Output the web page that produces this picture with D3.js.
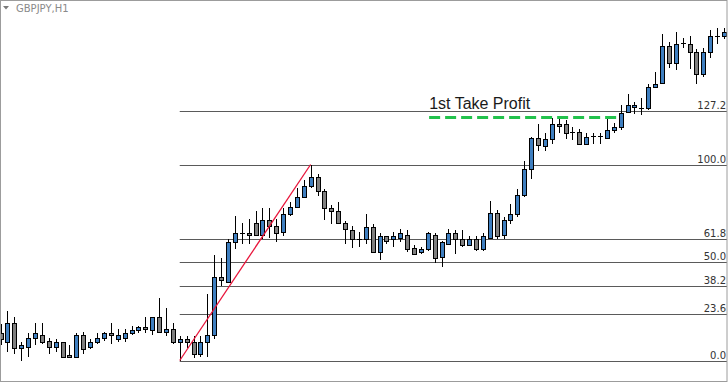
<!DOCTYPE html>
<html lang="en">
<head>
  <meta charset="UTF-8">
  <title>GBPJPY H1 - Fibonacci</title>
  <style>
    body { margin: 0; background: #fff; }
    svg { display: block; }
  </style>
</head>
<body>
  <svg id="chart" width="728" height="383"></svg>

  <script src="https://d3js.org/d3.v7.min.js"></script>
  <script>
    // chart data
    const symbol = "GBPJPY,H1";

    const opens = [185.28, 185.18, 185.37, 185.12, 185.14, 185.23, 185.26, 185.20, 185.14, 185.18,
      185.05, 185.04, 185.26, 185.14, 185.18, 185.23, 185.27, 185.22, 185.23, 185.27,
      185.30, 185.33, 185.30, 185.43, 185.29, 185.31, 185.18, 185.22, 185.18, 185.06,
      185.19, 185.26, 185.83, 185.79, 186.18, 186.28, 186.27, 186.38, 186.26, 186.41,
      186.35, 186.29, 186.46, 186.54, 186.64, 186.74, 186.84, 186.70, 186.53, 186.49,
      186.38, 186.31, 186.22, 186.22, 186.34, 186.09, 186.24, 186.21, 186.23, 186.26,
      186.13, 186.09, 186.11, 186.26, 186.04, 186.17, 186.27, 186.22, 186.16, 186.22,
      186.11, 186.23, 186.48, 186.26, 186.41, 186.46, 186.66, 186.92, 187.23, 187.15,
      187.22, 187.37, 187.37, 187.29, 187.29, 187.17, 187.25, 187.245, 187.23, 187.31,
      187.34, 187.49, 187.54, 187.53, 187.53, 187.74, 187.78, 188.15, 187.98, 188.175,
      188.17, 188.09, 187.87, 188.09, 188.25, 188.25];
    const highs = [185.36, 185.49, 185.44, 185.18, 185.27, 185.38, 185.37, 185.23, 185.21, 185.19,
      185.15, 185.27, 185.29, 185.21, 185.28, 185.29, 185.37, 185.32, 185.32, 185.35,
      185.35, 185.44, 185.43, 185.62, 185.52, 185.37, 185.24, 185.25, 185.25, 185.25,
      185.67, 186.05, 186.02, 186.22, 186.45, 186.38, 186.42, 186.50, 186.53, 186.53,
      186.42, 186.53, 186.59, 186.73, 186.81, 186.96, 186.87, 186.71, 186.56, 186.58,
      186.40, 186.35, 186.29, 186.46, 186.37, 186.27, 186.25, 186.29, 186.32, 186.31,
      186.15, 186.14, 186.29, 186.27, 186.20, 186.32, 186.30, 186.30, 186.25, 186.25,
      186.28, 186.60, 186.51, 186.43, 186.57, 186.72, 186.99, 187.24, 187.36, 187.27,
      187.43, 187.43, 187.41, 187.33, 187.32, 187.28, 187.28, 187.28, 187.42, 187.38,
      187.56, 187.67, 187.58, 187.63, 187.77, 187.89, 188.27, 188.19, 188.29, 188.23,
      188.25, 188.11, 188.13, 188.31, 188.33, 188.33];
    const lows = [185.16, 185.08, 185.06, 184.99, 185.03, 185.16, 185.17, 185.06, 185.08, 185.03,
      185.02, 185.03, 185.07, 185.11, 185.17, 185.20, 185.17, 185.18, 185.18, 185.26,
      185.27, 185.27, 185.26, 185.28, 185.25, 185.17, 185.00, 185.13, 185.02, 185.03,
      185.03, 185.22, 185.75, 185.78, 186.12, 186.17, 186.17, 186.25, 186.21, 186.23,
      186.19, 186.24, 186.45, 186.53, 186.63, 186.73, 186.65, 186.41, 186.37, 186.37,
      186.17, 186.13, 186.14, 186.17, 186.08, 186.01, 186.17, 186.14, 186.18, 186.09,
      186.06, 186.07, 186.10, 185.98, 185.93, 186.16, 186.07, 186.14, 186.15, 186.10,
      186.10, 186.22, 186.21, 186.22, 186.37, 186.43, 186.64, 186.82, 187.10, 187.10,
      187.17, 187.28, 187.22, 187.21, 187.16, 187.16, 187.17, 187.17, 187.22, 187.28,
      187.31, 187.48, 187.47, 187.46, 187.51, 187.73, 187.77, 187.93, 187.91, 188.13,
      187.92, 187.77, 187.83, 188.03, 188.17, 188.22];
    const closes = [185.21, 185.37, 185.12, 185.15, 185.23, 185.27, 185.19, 185.14, 185.18, 185.04,
      185.03, 185.26, 185.11, 185.19, 185.23, 185.27, 185.26, 185.26, 185.28, 185.30,
      185.33, 185.32, 185.43, 185.29, 185.31, 185.18, 185.22, 185.18, 185.06, 185.19,
      185.26, 185.83, 185.80, 186.18, 186.28, 186.27, 186.26, 186.26, 186.41, 186.35,
      186.27, 186.46, 186.54, 186.64, 186.75, 186.84, 186.70, 186.53, 186.49, 186.38,
      186.32, 186.21, 186.21, 186.33, 186.09, 186.25, 186.20, 186.24, 186.27, 186.12,
      186.07, 186.12, 186.27, 186.03, 186.18, 186.27, 186.22, 186.15, 186.22, 186.11,
      186.24, 186.48, 186.24, 186.41, 186.47, 186.66, 186.92, 187.23, 187.16, 187.22,
      187.36, 187.35, 187.28, 187.28, 187.17, 187.24, 187.245, 187.25, 187.30, 187.34,
      187.48, 187.56, 187.555, 187.525, 187.74, 187.77, 188.15, 187.98, 188.17, 188.17,
      188.09, 187.87, 188.09, 188.25, 188.245, 188.29];

    // fibonacci drawn from swing low (bar 26) to swing high (bar 45)
    const swingLowBar = 26;
    const swingHighBar = 45;
    const fibLevels = [0, 23.6, 38.2, 50, 61.8, 100, 127.2];
    const fibLabels = ["0.0", "23.6", "38.2", "50.0", "61.8", "100.0", "127.2"];

    const takeProfitText = "1st Take Profit";
    const takeProfitPrice = 187.44;
    const takeProfitBars = [62.2, 89.6];

    const svg = d3.select("#chart");
    const width = +svg.attr("width");
    const height = +svg.attr("height");

    const swingLow = lows[swingLowBar];
    const swingHigh = highs[swingHighBar];

    const x = d3.scaleLinear().domain([0, opens.length - 1]).range([0.6, 724]);
    const y = d3.scaleLinear().domain([swingLow, swingHigh]).range([360.5, 164.5]);

    const upColor = "#3f7fc0";
    const downColor = "#7f7f7f";

    svg.append("defs").append("clipPath").attr("id", "plot-clip")
      .append("rect").attr("x", 1).attr("y", 1).attr("width", width - 2).attr("height", 380);

    const plot = svg.append("g").attr("clip-path", "url(#plot-clip)");

    // fib levels
    const fibStart = x(swingLowBar);
    const fibPrice = lvl => swingLow + (swingHigh - swingLow) * lvl / 100;
    const fib = plot.append("g");
    fib.selectAll("line").data(fibLevels).join("line")
      .attr("x1", fibStart).attr("x2", width)
      .attr("y1", d => Math.round(y(fibPrice(d))) + 0.5)
      .attr("y2", d => Math.round(y(fibPrice(d))) + 0.5)
      .attr("stroke", "#5a5a5a").attr("stroke-width", 1);

    fib.selectAll("text").data(fibLevels).join("text")
      .attr("x", 726)
      .attr("y", d => Math.round(y(fibPrice(d))) - 2)
      .attr("text-anchor", "end")
      .attr("font-family", "DejaVu Sans, sans-serif")
      .attr("font-size", "10px")
      .attr("fill", "#333")
      .text((d, i) => fibLabels[i]);

    // candles
    const bars = d3.range(opens.length).map(i => ({
      i, o: opens[i], h: highs[i], l: lows[i], c: closes[i]
    }));

    const candle = plot.append("g").selectAll("g").data(bars).join("g");

    candle.append("line")
      .attr("x1", d => Math.round(x(d.i)) + 0.5).attr("x2", d => Math.round(x(d.i)) + 0.5)
      .attr("y1", d => Math.round(y(d.h))).attr("y2", d => Math.round(y(d.l)))
      .attr("stroke", "#000").attr("stroke-width", 1);

    candle.each(function (d) {
      const g = d3.select(this);
      const cx = Math.round(x(d.i));
      const top = Math.round(y(Math.max(d.o, d.c)));
      const bot = Math.round(y(Math.min(d.o, d.c)));
      if (bot - top < 2) {
        // doji: just a tick
        g.append("line")
          .attr("x1", cx - 2).attr("x2", cx + 3)
          .attr("y1", top + 0.5).attr("y2", top + 0.5)
          .attr("stroke", "#000");
      } else {
        g.append("rect")
          .attr("x", cx - 1.5).attr("y", top + 0.5)
          .attr("width", 4).attr("height", bot - top)
          .attr("fill", d.c > d.o ? upColor : downColor)
          .attr("stroke", "#000").attr("stroke-width", 1);
      }
    });

    // red swing line
    plot.append("line")
      .attr("x1", x(swingLowBar)).attr("y1", y(swingLow))
      .attr("x2", x(swingHighBar)).attr("y2", y(swingHigh))
      .attr("stroke", "#e8163c").attr("stroke-width", 1.3);

    // take profit annotation
    const tpY = Math.round(y(takeProfitPrice)) + 0.5;
    plot.append("line")
      .attr("x1", x(takeProfitBars[0])).attr("x2", x(takeProfitBars[1]))
      .attr("y1", tpY).attr("y2", tpY)
      .attr("stroke", "#22c24c").attr("stroke-width", 3)
      .attr("stroke-dasharray", "11,5");

    svg.append("text")
      .attr("x", x(takeProfitBars[0]))
      .attr("y", tpY - 9)
      .attr("font-family", "Liberation Sans, Arial, sans-serif")
      .attr("font-size", "16px")
      .attr("fill", "#1a1a1a")
      .text(takeProfitText);

    // symbol caption
    svg.append("path")
      .attr("d", "M3,6 L9,6 L6,9.5 Z")
      .attr("fill", "#7a7a7a");
    svg.append("text")
      .attr("x", 16).attr("y", 12)
      .attr("font-family", "DejaVu Sans, sans-serif")
      .attr("font-size", "10px")
      .attr("fill", "#8a8a8a")
      .text(symbol);

    // frame
    svg.append("rect")
      .attr("x", 0.5).attr("y", 0.5)
      .attr("width", width - 1.5).attr("height", 381)
      .attr("fill", "none").attr("stroke", "#9c9c9c");
  </script>
</body>
</html>
